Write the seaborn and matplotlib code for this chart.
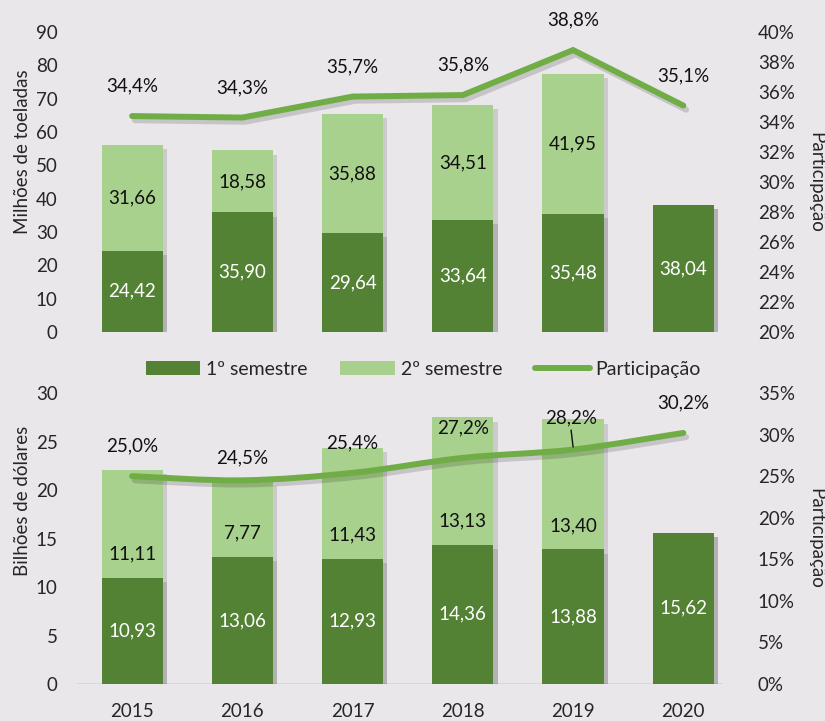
import numpy as np
import pandas as pd
import matplotlib
matplotlib.use("Agg")
import matplotlib.pyplot as plt
import matplotlib.patheffects as pe
from matplotlib.patches import Patch, PathPatch
from matplotlib.lines import Line2D
from matplotlib.path import Path
from matplotlib.ticker import FuncFormatter
import seaborn as sns

anos = ['2015', '2016', '2017', '2018', '2019', '2020']

ton_sem1 = [24.42, 35.90, 29.64, 33.64, 35.48, 38.04]
ton_sem2 = [31.66, 18.58, 35.88, 34.51, 41.95, np.nan]
ton_part = [34.4, 34.3, 35.7, 35.8, 38.8, 35.1]

usd_sem1 = [10.93, 13.06, 12.93, 14.36, 13.88, 15.62]
usd_sem2 = [11.11, 7.77, 11.43, 13.13, 13.40, np.nan]
usd_part = [25.0, 24.5, 25.4, 27.2, 28.2, 30.2]

BG = '#E9E7EA'
DARK = '#548235'
LIGHT = '#A9D18E'
LINE = '#70AD47'
FS = 13.5

sns.set_theme(style='white')
plt.rcParams['font.family'] = ['Lato', 'DejaVu Sans']
plt.rcParams['font.size'] = FS

shadow = [pe.SimplePatchShadow(offset=(3, -3), shadow_rgbFace='#000000', alpha=0.12), pe.Normal()]
line_shadow = [pe.SimpleLineShadow(offset=(2, -3), shadow_color='#000000', alpha=0.15), pe.Normal()]


def virgula(v, casas):
    return f'{v:.{casas}f}'.replace('.', ',')


def smooth_path(xs, ys):
    # bezier do tipo Catmull-Rom, como a linha suavizada do Excel
    pts = np.column_stack([xs, ys])
    n = len(pts)
    verts = [pts[0]]
    codes = [Path.MOVETO]
    for i in range(n - 1):
        p0 = pts[max(i - 1, 0)]
        p1 = pts[i]
        p2 = pts[i + 1]
        p3 = pts[min(i + 2, n - 1)]
        verts += [p1 + (p2 - p0) / 6, p2 - (p3 - p1) / 6, p2]
        codes += [Path.CURVE4] * 3
    return Path(verts, codes)


def painel(ax, sem1, sem2, part, ymax, yticks, plim, pticks, ylabel, ylab_pos,
           centrar_sem2, suave, baseline):
    df = pd.DataFrame({'ano': anos, 's1': sem1, 's2': sem2})
    df['total'] = df['s1'] + df['s2'].fillna(0)
    sns.barplot(data=df, x='ano', y='total', color=LIGHT, width=0.555,
                saturation=1, ax=ax)
    sns.barplot(data=df, x='ano', y='s1', color=DARK, width=0.555,
                saturation=1, ax=ax)
    for p in ax.patches:
        p.set_path_effects(shadow)
        p.set_linewidth(0)

    for i, row in df.iterrows():
        ax.text(i, row['s1'] / 2, virgula(row['s1'], 2), color='white',
                ha='center', va='center', fontsize=FS)
        if not np.isnan(row['s2']):
            if centrar_sem2:
                ax.text(i, row['s1'] + row['s2'] / 2, virgula(row['s2'], 2),
                        color='#111111', ha='center', va='center', fontsize=FS)
            else:
                ax.annotate(virgula(row['s2'], 2), (i, row['s1']),
                            xytext=(0, 24), textcoords='offset pixels',
                            ha='center', va='center', color='#111111', fontsize=FS)

    ax.set_xlim(-0.5, 5.5)
    ax.set_ylim(0, ymax)
    ax.set_yticks(yticks)
    ax.set_ylabel(ylabel, fontsize=FS)
    ax.yaxis.set_label_coords(-0.07, ylab_pos)
    ax.set_xlabel('')
    ax.tick_params(axis='y', length=0, pad=14, labelsize=FS)
    ax.tick_params(axis='x', length=0, pad=14, labelsize=FS)
    ax.set_facecolor(BG)
    for s in ax.spines.values():
        s.set_visible(False)
    if baseline:
        ax.axhline(0, xmin=0, xmax=0.975, color='#D5D6DA', lw=1.2, zorder=0.5)

    ax2 = ax.twinx()
    x = np.arange(len(part))
    if suave:
        patch = PathPatch(smooth_path(x, part), facecolor='none', edgecolor=LINE,
                          lw=4.3, capstyle='round', joinstyle='round')
        patch.set_path_effects(line_shadow)
        ax2.add_patch(patch)
    else:
        sns.lineplot(x=x, y=part, color=LINE, lw=4.3, ax=ax2,
                     solid_capstyle='round', solid_joinstyle='miter')
        ax2.lines[-1].set_path_effects(line_shadow)
    ax2.set_ylim(*plim)
    ax2.set_yticks(pticks)
    ax2.yaxis.set_major_formatter(FuncFormatter(lambda v, _: f'{v:.0f}%'))
    ax2.tick_params(axis='y', length=0, pad=14, labelsize=FS)
    ax2.set_ylabel('Participação', rotation=270, fontsize=FS)
    ax2.yaxis.set_label_coords(1.13, 0.5)
    for s in ax2.spines.values():
        s.set_visible(False)
    ax2.grid(False)
    ax.grid(False)
    return ax2


fig = plt.figure(figsize=(8.25, 7.21), dpi=100)
fig.patch.set_facecolor(BG)

ax_top = fig.add_axes([0.0933, 0.5395, 0.8018, 0.416])
ax_bot = fig.add_axes([0.0933, 0.0513, 0.8018, 0.4036])

t2 = painel(ax_top, ton_sem1, ton_sem2, ton_part, 90, range(0, 91, 10),
            (20, 40), range(20, 41, 2), 'Milhões de toeladas', 0.6,
            True, False, False)
ax_top.set_xticklabels([])

b2 = painel(ax_bot, usd_sem1, usd_sem2, usd_part, 30, range(0, 31, 5),
            (0, 35), range(0, 36, 5), 'Bilhões de dólares', 0.63,
            False, True, True)

for i, v in enumerate(ton_part):
    t2.annotate(virgula(v, 1) + '%', (i, v), xytext=(0, 30),
                textcoords='offset pixels', ha='center', va='center',
                fontsize=FS, color='#111111')

for i, v in enumerate(usd_part):
    dy = 30
    if i == 1:
        dy = 22
    if i == 4:
        b2.annotate(virgula(v, 1) + '%', (i, v), xytext=(-2, 32),
                    textcoords='offset pixels', ha='center', va='center',
                    fontsize=FS, color='#111111')
        b2.annotate('', (i, v + 0.3), xytext=(-2, 17), textcoords='offset pixels',
                    arrowprops=dict(arrowstyle='-', color='#111111', lw=1,
                                    shrinkA=0, shrinkB=0))
        continue
    b2.annotate(virgula(v, 1) + '%', (i, v), xytext=(0, dy),
                textcoords='offset pixels', ha='center', va='center',
                fontsize=FS, color='#111111')

handles = [
    Patch(facecolor=DARK, edgecolor='none'),
    Patch(facecolor=LIGHT, edgecolor='none'),
    Line2D([0], [0], color=LINE, lw=4.3, solid_capstyle='round'),
]
fig.legend(handles, ['1º semestre', '2º semestre', 'Participação'],
           loc='center', bbox_to_anchor=(0.513, 0.488), ncol=3, frameon=False,
           fontsize=14, handlelength=2.8, handleheight=0.7, handletextpad=0.3,
           columnspacing=1.7)

fig.savefig('out.png', dpi=100, facecolor=BG)
